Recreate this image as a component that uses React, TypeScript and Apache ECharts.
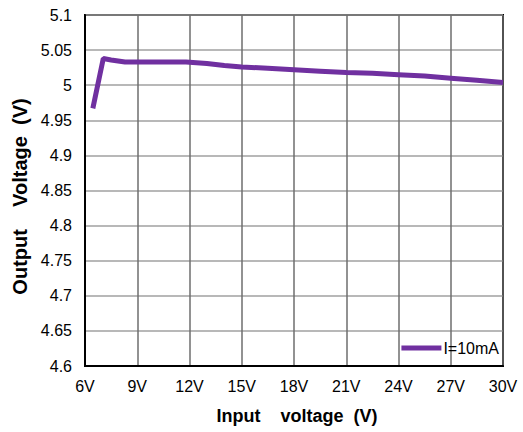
import React, { useEffect, useRef } from "react";
import * as echarts from "echarts";

const inputV = [6.45, 7.05, 7.5, 8.3, 9, 10, 11, 11.8, 13, 14, 15, 16.5, 18, 19.5, 21, 22.5, 24, 25.5, 27, 28.5, 30];
const outputV = [4.967, 5.038, 5.036, 5.033, 5.033, 5.033, 5.033, 5.033, 5.031, 5.028, 5.026, 5.024, 5.022, 5.02, 5.018, 5.017, 5.015, 5.013, 5.01, 5.007, 5.004];
const seriesName = "I=10mA";
const xTitle = "Input    voltage  (V)";
const yTitle = "Output    Voltage  (V)";

export default function App() {
  const ref = useRef<HTMLDivElement>(null);
  useEffect(() => {
    const chart = echarts.init(ref.current!, undefined, { renderer: "svg" });
    const font = "'Liberation Sans', Arial, sans-serif";
    chart.setOption({
      animation: false,
      textStyle: { fontFamily: font },
      grid: {
        left: 85,
        top: 15,
        right: 20,
        bottom: 66,
        show: true,
        borderColor: "#000",
        borderWidth: 2,
        containLabel: false,
      },
      legend: {
        data: [{ name: seriesName, icon: "rect" }],
        right: 19,
        bottom: 71,
        itemWidth: 40,
        itemHeight: 5,
        itemGap: 2,
        textStyle: { fontSize: 16, color: "#000", fontFamily: font, padding: [0, 0, 0, -3] },
        backgroundColor: "transparent",
      },
      xAxis: {
        type: "value",
        min: 6,
        max: 30,
        interval: 3,
        name: xTitle,
        nameLocation: "middle",
        nameGap: 41,
        nameTextStyle: { fontSize: 18, fontWeight: "bold", color: "#000", fontFamily: font, padding: [0, 0, 0, 6] },
        axisLine: { show: true, lineStyle: { color: "#000", width: 2 } },
        axisTick: { show: false },
        axisLabel: { fontSize: 16, color: "#000", margin: 12, formatter: (v: number) => `${v}V` },
        splitLine: { show: true, lineStyle: { color: "#6e6e6e", width: 1.5 } },
      },
      yAxis: {
        type: "value",
        min: 4.6,
        max: 5.1,
        interval: 0.05,
        name: yTitle,
        nameLocation: "middle",
        nameGap: 54,
        nameTextStyle: { fontSize: 20, fontWeight: "bold", color: "#000", fontFamily: font, padding: [0, 12, 0, 0] },
        axisLine: { show: true, lineStyle: { color: "#000", width: 2 } },
        axisTick: { show: false },
        axisLabel: {
          fontSize: 16,
          color: "#000",
          margin: 13,
          formatter: (v: number) => String(parseFloat(v.toFixed(2))),
        },
        splitLine: { show: true, lineStyle: { color: "#a0a0a0", width: 1.5 } },
      },
      series: [
        {
          name: seriesName,
          type: "line",
          data: inputV.map((x, i) => [x, outputV[i]]),
          showSymbol: false,
          symbol: "none",
          smooth: false,
          lineStyle: { color: "#7030a0", width: 5 },
          itemStyle: { color: "#7030a0" },
        },
      ],
    });
    return () => chart.dispose();
  }, []);
  return (
    <div
      ref={ref}
      style={{ position: "fixed", left: 0, top: 0, width: 523, height: 432, background: "#fff" }}
    />
  );
}
